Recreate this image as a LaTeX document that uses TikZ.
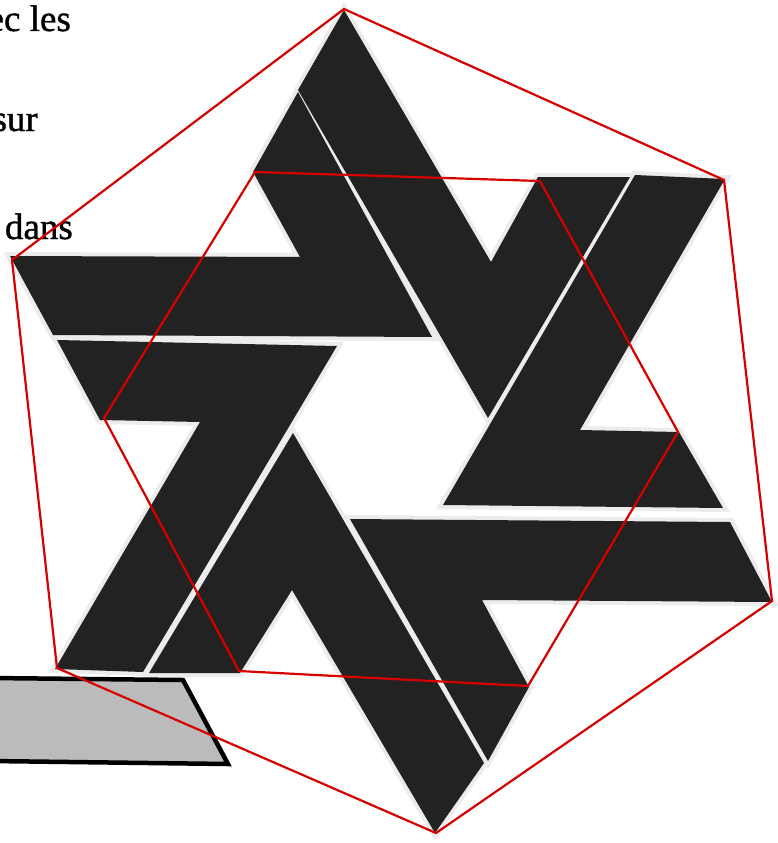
\documentclass[tikz,border=0pt]{standalone}
\usepackage{fontspec}
\setmainfont{Liberation Serif}[FakeBold=1]
\definecolor{piece}{HTML}{222222}
\definecolor{shade}{HTML}{ECECEC}
\definecolor{hexred}{HTML}{D60000}
\definecolor{plate}{HTML}{BBBBBB}
\tikzset{
  pA/.style={insert path={(344,10) -- (491,262) -- (538,177) -- (630,177) -- (488,418) -- (298,90) -- cycle}},
  pB/.style={insert path={(298,92) -- (432,337) -- (53,335) -- (10,256) -- (300,257) -- (253,172) -- cycle}},
  pC/.style={insert path={(57,340) -- (337,346) -- (143,672) -- (55,669) -- (200,422) -- (100,420) -- cycle}},
  pD/.style={insert path={(293,433) -- (484,763) -- (435,833) -- (292,590) -- (240,673) -- (149,673) -- cycle}},
  pE/.style={insert path={(350,519) -- (730,522) -- (772,602) -- (482,600) -- (529,687) -- (488,761) -- cycle}},
  pF/.style={insert path={(635,175) -- (725,179) -- (580,430) -- (679,432) -- (723,508) -- (443,505) -- cycle}},
  shadowline/.style={draw=shade, line width=8pt, line join=miter},
  piecefill/.style={fill=piece},
  hexline/.style={draw=hexred, line width=2.2pt, line join=miter},
  platebox/.style={fill=plate, draw=black, line width=4.5pt, line join=miter},
  cuttext/.style={font=\fontsize{37}{44}\selectfont, text=black, inner sep=0pt, anchor=base east}
}
\begin{document}
\begin{tikzpicture}[x=1pt,y=-1pt]
\useasboundingbox (0,0) rectangle (778,843);
% text fragments
\node[cuttext] (t1) at (71,31) {ec les};
\node[cuttext] (t2) at (38,131) {sur};
\node[cuttext] (t3) at (73,239) {dans};
% shadows
\path[shadowline,pA];
\path[shadowline,pB];
\path[shadowline,pC];
\path[shadowline,pD];
\path[shadowline,pE];
\path[shadowline,pF];
% pieces
\path[piecefill,pA];
\path[piecefill,pB];
\path[piecefill,pC];
\path[piecefill,pD];
\path[piecefill,pE];
\path[piecefill,pF];
% grey plate
\path[platebox] (-10,678) -- (183,680) -- (228,764) -- (-10,761) -- cycle;
% red hexagons
\path[hexline] (344,9) -- (724,180) -- (772,601) -- (436,833) -- (57,668) -- (12,260) -- cycle;
\path[hexline] (255,172) -- (540,181) -- (678,432) -- (528,686) -- (239,671) -- (104,418) -- cycle;
\end{tikzpicture}
\end{document}
